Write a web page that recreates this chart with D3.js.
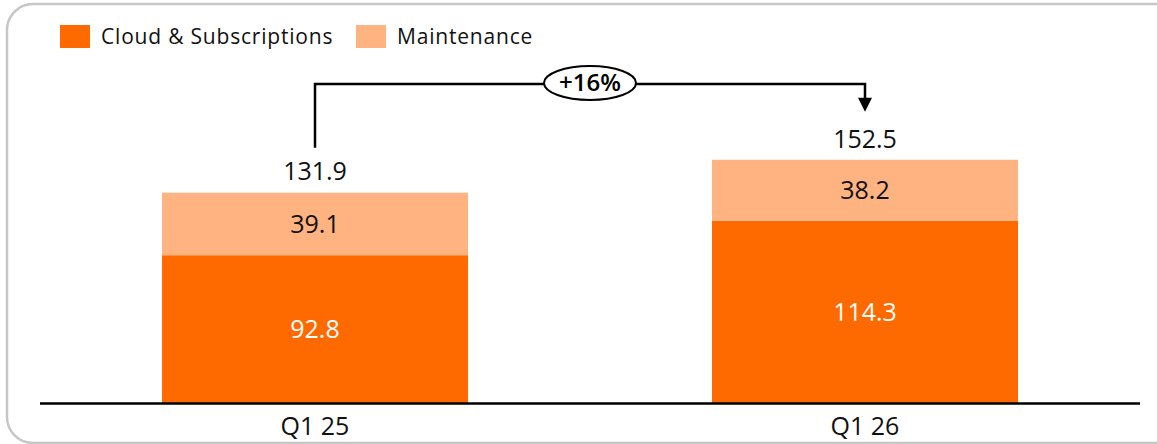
<!DOCTYPE html>
<html>
<head>
<meta charset="utf-8">
<script src="https://cdn.jsdelivr.net/npm/d3@7"></script>
<style>
  html, body { margin: 0; padding: 0; background: #fff; }
  svg { display: block; font-family: "Open Sans", "Noto Sans", sans-serif; }
</style>
</head>
<body>
<svg id="chart" width="1157" height="444"></svg>
<script>
// Revenue by quarter, stacked by segment
const categories = ["Q1 25", "Q1 26"];
const seriesNames = ["Cloud & Subscriptions", "Maintenance"];
const cloudValues = [92.8, 114.3];
const maintenanceValues = [39.1, 38.2];
const totalLabels = ["131.9", "152.5"];
const growthLabel = "+16%";

const colors = { "Cloud & Subscriptions": "#ff6a00", "Maintenance": "#ffb380" };

const svg = d3.select("#chart");

// Card frame
svg.append("rect")
  .attr("x", 7).attr("y", 4)
  .attr("width", 1180).attr("height", 439)
  .attr("rx", 26).attr("ry", 26)
  .attr("fill", "#fff")
  .attr("stroke", "#c6c6c6").attr("stroke-width", 2.5);

const baseY = 403.5;
const x = d3.scaleBand().domain(categories).range([40, 1140])
  .paddingInner(244 / 550).paddingOuter(122 / 550);
const y = d3.scaleLinear().domain([0, 131.9]).range([baseY, 192.7]);

const rows = categories.map((c, i) => ({
  cat: c,
  "Cloud & Subscriptions": cloudValues[i],
  "Maintenance": maintenanceValues[i],
  total: totalLabels[i]
}));
const stack = d3.stack().keys(seriesNames)(rows);

// Bars
const layers = svg.append("g").selectAll("g").data(stack).join("g")
  .attr("fill", d => colors[d.key]);
layers.selectAll("rect").data(d => d).join("rect")
  .attr("x", d => x(d.data.cat))
  .attr("width", x.bandwidth())
  .attr("y", d => y(d[1]))
  .attr("height", d => y(d[0]) - y(d[1]));

// Segment value labels
stack.forEach(layer => {
  svg.append("g").selectAll("text").data(layer).join("text")
    .attr("x", d => x(d.data.cat) + x.bandwidth() / 2)
    .attr("y", d => (y(d[0]) + y(d[1])) / 2)
    .attr("dy", "0.35em")
    .attr("text-anchor", "middle")
    .attr("font-size", 25)
    .attr("fill", layer.key === "Cloud & Subscriptions" ? "#fff" : "#111")
    .text(d => d.data[layer.key].toFixed(1));
});

// Totals above bars
svg.append("g").selectAll("text").data(rows).join("text")
  .attr("x", d => x(d.cat) + x.bandwidth() / 2)
  .attr("y", d => y(d["Cloud & Subscriptions"] + d["Maintenance"]) - 21)
  .attr("dy", "0.35em")
  .attr("text-anchor", "middle")
  .attr("font-size", 25)
  .attr("fill", "#111")
  .text(d => d.total);

// Baseline axis
const xAxis = svg.append("g").attr("transform", `translate(0,${baseY})`)
  .call(d3.axisBottom(x).tickSize(0).tickPadding(14));
xAxis.select(".domain").attr("d", "M40,0H1140").attr("stroke", "#000").attr("stroke-width", 2.5);
xAxis.selectAll("text").attr("font-size", 25).attr("fill", "#111")
  .attr("font-family", "\"Open Sans\", sans-serif");

// Growth bracket
const x0 = x(categories[0]) + x.bandwidth() / 2;
const x1 = x(categories[1]) + x.bandwidth() / 2;
const topY = 84;
const g = svg.append("g");
g.append("path")
  .attr("d", `M${x0},${y(131.9) - 45}V${topY}H${x1}V${y(152.5) - 56}`)
  .attr("fill", "none").attr("stroke", "#000").attr("stroke-width", 2.5);
const tipY = y(152.5) - 48;
g.append("path")
  .attr("d", `M${x1 - 7},${tipY - 14}L${x1 + 7},${tipY - 14}L${x1},${tipY}Z`)
  .attr("fill", "#000");
const cx = (x0 + x1) / 2;
g.append("ellipse")
  .attr("cx", cx).attr("cy", topY - 1).attr("rx", 46).attr("ry", 17)
  .attr("fill", "#fff").attr("stroke", "#000").attr("stroke-width", 2);
g.append("text")
  .attr("x", cx).attr("y", topY - 1).attr("dy", "0.35em")
  .attr("text-anchor", "middle").attr("font-size", 24).attr("font-weight", 600)
  .attr("fill", "#000").text(growthLabel);

// Legend
const legend = svg.append("g");
const legendX = [60, 356];
seriesNames.forEach((name, i) => {
  legend.append("rect")
    .attr("x", legendX[i]).attr("y", 25).attr("width", 30).attr("height", 23)
    .attr("fill", colors[name]);
  legend.append("text")
    .attr("x", legendX[i] + 41).attr("y", 37).attr("dy", "0.35em")
    .attr("font-size", 21).attr("letter-spacing", 0.8)
    .attr("fill", "#111").text(name);
});
</script>
</body>
</html>
